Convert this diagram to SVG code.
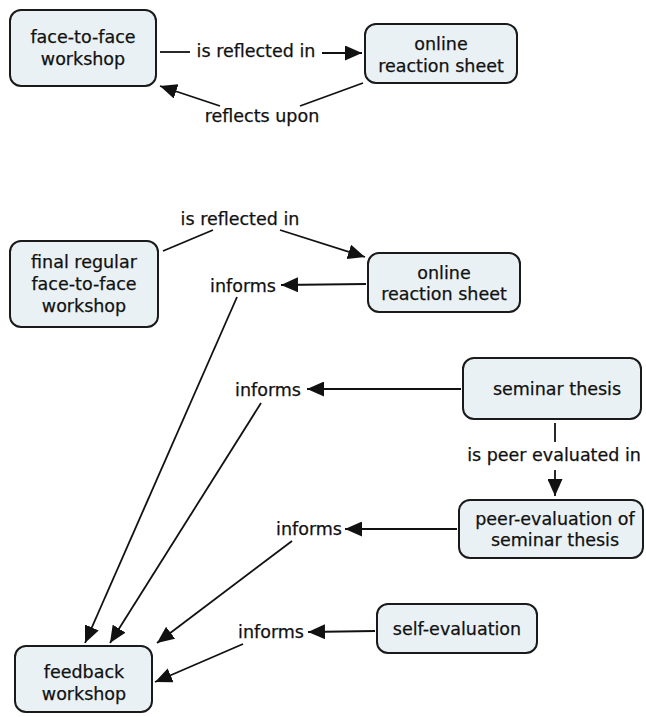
<svg xmlns="http://www.w3.org/2000/svg" width="646" height="717" viewBox="0 0 646 717">
  <defs>
    <marker id="arrow" viewBox="0 0 17 15" refX="17" refY="7.5" markerWidth="17" markerHeight="15" markerUnits="userSpaceOnUse" orient="auto">
      <path d="M0,0 L17,7.5 L0,15 z" fill="#111"/>
    </marker>
    <style>
      .node rect { fill: #eaf1f5; stroke: #1a1a1a; stroke-width: 2; }
      text { font-family: "DejaVu Sans", Verdana, sans-serif; font-size: 17.5px; fill: #111; stroke: #111; stroke-width: 0.25; text-anchor: middle; }
      .conn line { stroke: #111; stroke-width: 1.8; fill: none; }
      .conn line.arr { marker-end: url(#arrow); }
    </style>
  </defs>
  <rect width="646" height="717" fill="#fff"/>

  <!-- connectors -->
  <g id="connectors" class="conn">
    <!-- face-to-face workshop -> online reaction sheet -->
    <line x1="160" y1="52" x2="190" y2="52"/>
    <line class="arr" x1="322" y1="53" x2="362" y2="53"/>
    <!-- online reaction sheet -> face-to-face workshop -->
    <line x1="363" y1="83" x2="300" y2="106"/>
    <line class="arr" x1="220" y1="106" x2="160" y2="86"/>
    <!-- final regular workshop -> online reaction sheet -->
    <line x1="163" y1="251" x2="213" y2="230"/>
    <line class="arr" x1="280" y1="230" x2="365" y2="257"/>
    <!-- online reaction sheet informs feedback workshop -->
    <line class="arr" x1="366" y1="284" x2="281" y2="285"/>
    <line class="arr" x1="237" y1="297" x2="85" y2="643"/>
    <!-- seminar thesis informs feedback workshop -->
    <line class="arr" x1="461" y1="389" x2="307" y2="389"/>
    <line class="arr" x1="261" y1="403" x2="110" y2="643"/>
    <!-- seminar thesis is peer evaluated in peer-evaluation -->
    <line x1="555" y1="423" x2="555" y2="442"/>
    <line class="arr" x1="555" y1="470" x2="555" y2="496"/>
    <!-- peer-evaluation informs feedback workshop -->
    <line class="arr" x1="457" y1="529" x2="345" y2="529"/>
    <line class="arr" x1="292" y1="541" x2="157" y2="643"/>
    <!-- self-evaluation informs feedback workshop -->
    <line class="arr" x1="375" y1="631" x2="308" y2="632"/>
    <line class="arr" x1="243" y1="644" x2="155" y2="682"/>
  </g>

  <!-- linking phrases -->
  <g id="labels">
    <text x="256" y="57">is reflected in</text>
    <text x="262" y="122">reflects upon</text>
    <text x="240" y="225">is reflected in</text>
    <text x="243" y="292">informs</text>
    <text x="268" y="396">informs</text>
    <text x="554" y="461">is peer evaluated in</text>
    <text x="309" y="535">informs</text>
    <text x="271" y="638">informs</text>
  </g>

  <!-- concepts -->
  <g id="node-f2f" class="node">
    <rect x="10" y="10" width="146" height="76" rx="11"/>
    <text x="83" y="43">face-to-face</text>
    <text x="83" y="65">workshop</text>
  </g>
  <g id="node-online1" class="node">
    <rect x="365" y="24" width="152" height="59" rx="11"/>
    <text x="441" y="50">online</text>
    <text x="441" y="72">reaction sheet</text>
  </g>
  <g id="node-final" class="node">
    <rect x="10" y="241" width="148" height="86" rx="11"/>
    <text x="84" y="268">final regular</text>
    <text x="84" y="290">face-to-face</text>
    <text x="84" y="312">workshop</text>
  </g>
  <g id="node-online2" class="node">
    <rect x="368" y="253" width="152" height="59" rx="11"/>
    <text x="444" y="279">online</text>
    <text x="444" y="300">reaction sheet</text>
  </g>
  <g id="node-seminar" class="node">
    <rect x="463" y="358" width="178" height="61" rx="11"/>
    <text x="557" y="395">seminar thesis</text>
  </g>
  <g id="node-peer" class="node">
    <rect x="459" y="500" width="184" height="58" rx="11"/>
    <text x="555" y="525">peer-evaluation of</text>
    <text x="555" y="546">seminar thesis</text>
  </g>
  <g id="node-self" class="node">
    <rect x="377" y="604" width="160" height="49" rx="11"/>
    <text x="457" y="635">self-evaluation</text>
  </g>
  <g id="node-feedback" class="node">
    <rect x="15" y="646" width="137" height="66" rx="11"/>
    <text x="84" y="678">feedback</text>
    <text x="84" y="700">workshop</text>
  </g>
</svg>
